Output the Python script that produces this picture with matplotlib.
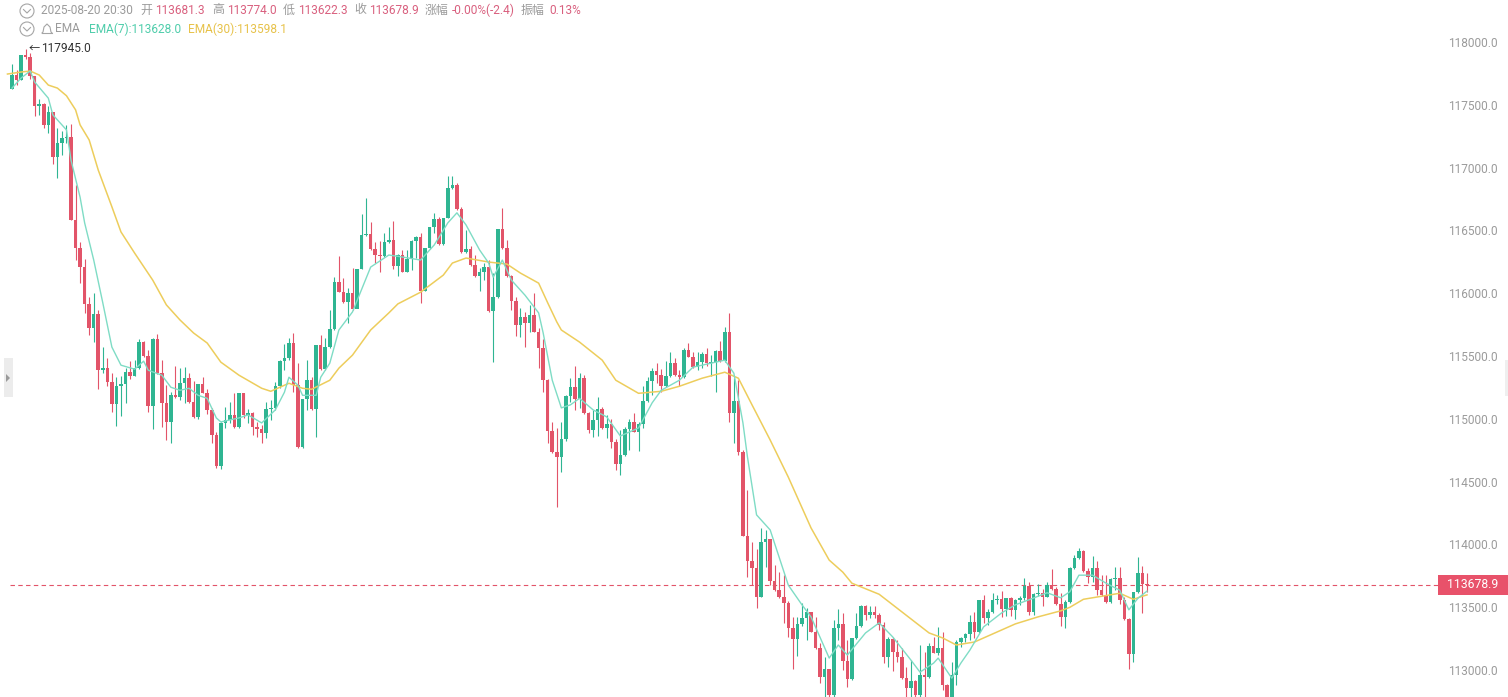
import numpy as np
from matplotlib import pyplot as plt, patches

plt.rcParams['font.family'] = ['Roboto', 'Noto Sans CJK SC', 'DejaVu Sans']

first_open = 117625

closes = [117737, 117697, 117897, 117881, 117729, 117492, 117508, 117340, 117444, 117084,
          117196, 117236, 117244, 116584, 116360, 116208, 115915, 115723, 115835, 115387,
          115403, 115291, 115119, 115259, 115275, 115371, 115339, 115403, 115611, 115499,
          115103, 115635, 115363, 115127, 114975, 115187, 115171, 115283, 115323, 115135,
          115015, 115275, 115203, 115071, 114871, 114623, 114967, 114991, 115031, 114935,
          115203, 115031, 115047, 114935, 114919, 114887, 115079, 115087, 115259, 115459,
          115483, 115603, 115267, 114775, 115155, 115307, 115079, 115587, 115395, 115571,
          115715, 116088, 116008, 115931, 116000, 115875, 116192, 116464, 116472, 116352,
          116304, 116296, 116408, 116424, 116216, 116304, 116168, 116272, 116416, 116448,
          116016, 116360, 116528, 116592, 116392, 116600, 116836, 116860, 116672, 116328,
          116352, 116224, 116136, 116168, 116208, 115859, 115968, 116512, 116360, 116136,
          115939, 115747, 115811, 115763, 115827, 115691, 115563, 115307, 114903, 114735,
          114695, 114839, 115179, 115251, 115155, 115323, 115047, 114911, 114991, 115079,
          114927, 114959, 114815, 114639, 114711, 114919, 114975, 114895, 114959, 115143,
          115299, 115379, 115347, 115259, 115339, 115443, 115347, 115331, 115547, 115491,
          115411, 115451, 115515, 115443, 115451, 115539, 115459, 115691, 115047, 115143,
          114735, 114067, 113867, 113811, 113579, 114019, 114043, 113707, 113635, 113579,
          113535, 113335, 113247, 113367, 113415, 113463, 113303, 113175, 112943, 113007,
          112799, 113335, 113367, 113071, 112927, 113255, 113351, 113511, 113439, 113463,
          113439, 113359, 113103, 113247, 113143, 113103, 112935, 112855, 112911, 112799,
          112959, 112943, 113191, 113135, 113175, 112879, 112759, 112959, 113223, 113255,
          113287, 113383, 113303, 113559, 113415, 113463, 113559, 113563, 113487, 113571,
          113479, 113559, 113571, 113667, 113463, 113603, 113611, 113579, 113675, 113643,
          113527, 113423, 113543, 113811, 113891, 113947, 113787, 113739, 113811, 113635,
          113595, 113543, 113723, 113731, 113559, 113407, 113127, 113619, 113771, 113681,
          113678.9]

highs = [117825, 117777, 117897, 117945, 117913, 117729, 117545, 117516, 117492, 117444,
         117316, 117292, 117340, 117348, 116860, 116408, 116272, 115968, 116000, 115867,
         115571, 115483, 115363, 115331, 115339, 115403, 115459, 115467, 115635, 115619,
         115547, 115643, 115675, 115467, 115267, 115211, 115419, 115403, 115411, 115363,
         115299, 115275, 115331, 115235, 115087, 114895, 114975, 115095, 115135, 115203,
         115203, 115203, 115079, 115055, 114975, 114951, 115135, 115147, 115291, 115467,
         115595, 115643, 115683, 115443, 115155, 115467, 115331, 115587, 115667, 115643,
         115867, 116128, 116296, 116120, 116040, 116200, 116192, 116632, 116756, 116568,
         116408, 116416, 116480, 116528, 116576, 116312, 116344, 116344, 116424, 116456,
         116480, 116360, 116528, 116640, 116608, 116600, 116932, 116932, 116876, 116688,
         116504, 116376, 116304, 116200, 116240, 116264, 116160, 116512, 116680, 116424,
         116144, 115968, 115883, 115851, 115907, 116000, 115723, 115635, 115315, 114975,
         114927, 114975, 115187, 115323, 115419, 115363, 115347, 115055, 115071, 115171,
         115095, 115031, 114999, 114839, 114911, 114935, 114999, 115047, 114975, 115259,
         115331, 115403, 115443, 115395, 115459, 115531, 115483, 115387, 115563, 115603,
         115531, 115531, 115531, 115563, 115507, 115547, 115619, 115731, 115843, 115323,
         115307, 114751, 114431, 114019, 113963, 114131, 114115, 114043, 113835, 113779,
         113755, 113551, 113423, 113423, 113535, 113495, 113455, 113423, 113215, 113103,
         113007, 113399, 113487, 113455, 113239, 113255, 113455, 113519, 113519, 113511,
         113511, 113455, 113383, 113263, 113263, 113239, 113175, 113023, 113079, 112919,
         113199, 113143, 113215, 113263, 113343, 113303, 112887, 113063, 113239, 113263,
         113295, 113439, 113463, 113559, 113595, 113487, 113611, 113595, 113627, 113571,
         113579, 113563, 113587, 113731, 113699, 113611, 113683, 113643, 113699, 113803,
         113659, 113611, 113559, 113819, 113915, 113971, 113955, 113811, 113907, 113867,
         113755, 113755, 113731, 113819, 113819, 113579, 113415, 113619, 113899, 113827,
         113774]

lows = [117625, 117657, 117697, 117865, 117705, 117412, 117420, 117316, 117276, 117028,
        116916, 117100, 117196, 116584, 116264, 116080, 115843, 115667, 115611, 115235,
        115363, 115259, 115055, 114943, 115023, 115127, 115315, 115339, 115395, 115491,
        115055, 114919, 115355, 114935, 114831, 114807, 115163, 115147, 115127, 115127,
        115007, 114999, 115203, 115039, 114807, 114607, 114599, 114927, 114967, 114927,
        114927, 115007, 114967, 114871, 114855, 114807, 114847, 114991, 115071, 115243,
        115387, 115467, 115211, 114767, 114767, 115071, 115071, 114855, 115387, 115387,
        115563, 115707, 116008, 115923, 115763, 115867, 115907, 116192, 116456, 116344,
        116240, 116168, 116288, 116400, 116192, 116136, 116168, 116168, 116184, 116280,
        115923, 116016, 116352, 116480, 116384, 116384, 116600, 116828, 116664, 116320,
        116320, 116216, 116128, 116016, 116104, 115851, 115451, 115963, 116352, 116128,
        115867, 115659, 115651, 115571, 115691, 115691, 115403, 115211, 114807, 114727,
        114299, 114575, 114823, 115135, 115071, 115087, 115039, 114887, 114855, 114863,
        114919, 114847, 114767, 114591, 114551, 114703, 114751, 114895, 114743, 114927,
        115135, 115187, 115283, 115211, 115251, 115331, 115339, 115259, 115323, 115491,
        115403, 115387, 115403, 115419, 115339, 115211, 115451, 115451, 114975, 114807,
        114711, 114067, 113739, 113675, 113495, 113579, 113819, 113675, 113627, 113571,
        113375, 113263, 113007, 113111, 113351, 113239, 113303, 113167, 112895, 112783,
        112719, 112719, 113239, 112999, 112863, 112919, 113247, 113343, 113399, 113415,
        113415, 113319, 113055, 113023, 112991, 113063, 112927, 112719, 112783, 112759,
        112719, 112783, 112935, 113135, 113119, 112839, 112719, 112719, 112879, 113183,
        113223, 113239, 113255, 113295, 113375, 113359, 113455, 113527, 113423, 113431,
        113431, 113407, 113519, 113559, 113439, 113439, 113587, 113511, 113579, 113635,
        113519, 113351, 113335, 113535, 113803, 113883, 113779, 113691, 113699, 113595,
        113587, 113535, 113535, 113635, 113527, 113399, 113007, 113063, 113611, 113455,
        113622.3]

ema7_idx = [0, 2, 4, 5, 8, 9, 12, 13, 15, 16, 18, 20, 22, 24, 27, 29, 30, 33, 35, 37,
            39, 41, 43, 45, 46, 50, 52, 55, 58, 60, 61, 63, 64, 67, 68, 70, 72, 75, 79, 83,
            86, 90, 93, 96, 98, 100, 103, 105, 106, 108, 110, 113, 116, 117, 119, 121, 123, 125, 128, 131,
            134, 138, 141, 143, 147, 150, 154, 157, 159, 161, 162, 164, 167, 171, 174, 176, 180, 182, 184, 188,
            191, 194, 198, 200, 203, 204, 207, 209, 211, 214, 218, 221, 224, 228, 231, 233, 235, 238, 241, 244,
            246, 248, 250]
ema7 = [117633, 117713, 117769, 117681, 117553, 117420, 117300, 117060, 116764, 116560,
        116264, 115923, 115571, 115427, 115395, 115459, 115387, 115347, 115251, 115227,
        115243, 115187, 115163, 115007, 114975, 115007, 115031, 114967, 115071, 115211,
        115331, 115267, 115187, 115187, 115331, 115443, 115707, 115851, 116208, 116304,
        116288, 116264, 116384, 116560, 116640, 116544, 116344, 116240, 116128, 116264,
        116104, 115984, 115843, 115683, 115307, 115087, 115111, 115163, 115071, 115015,
        114863, 114927, 115127, 115227, 115307, 115411, 115443, 115467, 115363, 114967,
        114695, 114235, 114115, 113675, 113519, 113423, 113095, 113199, 113119, 113295,
        113375, 113263, 113079, 112983, 113055, 113095, 112935, 113055, 113159, 113343,
        113455, 113519, 113559, 113615, 113575, 113623, 113755, 113755, 113691, 113635,
        113479, 113571, 113628]

ema30_idx = [-1, 2, 4, 6, 8, 10, 12, 14, 15, 17, 19, 22, 24, 27, 31, 34, 37, 40, 43, 46, 50, 55, 57, 61,
             64, 66, 70, 72, 75, 79, 83, 85, 90, 95, 97, 100, 105, 109, 112, 116, 118, 120, 121, 125, 130,
             133, 138, 143, 147, 152, 157, 160, 163, 167, 171, 176, 180, 183, 185, 191, 196, 202, 205, 208, 212,
             216, 221, 226, 231, 233, 236, 240, 244, 247, 249, 250]
ema30 = [117745, 117761, 117769, 117737, 117657, 117633, 117572, 117460, 117340, 117220, 116980, 116688,
         116488, 116320, 116104, 115907, 115787, 115683, 115603, 115451, 115347, 115243, 115219, 115283,
         115243, 115235, 115307, 115403, 115507, 115707, 115843, 115915, 116008, 116144,
         116240, 116280, 116248, 116232, 116160, 116080, 115923, 115771, 115707, 115611, 115467,
         115307, 115203, 115219, 115259, 115323, 115371, 115323, 115111, 114831, 114535,
         114131, 113875, 113779, 113691, 113603, 113463, 113295, 113255, 113199, 113223,
         113287, 113367, 113423, 113471, 113499, 113563, 113587, 113611, 113563, 113587,
         113598.1]

price_ticks = [113000, 113500, 114000, 114500, 115000, 115500, 116000, 116500, 117000, 117500, 118000]
high_price = 117945.0
last_close = 113678.9

up_color = '#2fb592'
down_color = '#e25469'
teal = '#7fdcc5'
yellow = '#edcd5c'
grey = '#9b9b9b'
red_text = '#d9607f'

W, H = 1508, 697
closes = np.array(closes)
highs = np.array(highs)
lows = np.array(lows)
opens = np.concatenate([[first_open], closes[:-1]])
idx = np.arange(len(closes))
colors = [up_color if c > o else down_color for o, c in zip(opens, closes)]

fig = plt.figure(figsize=(W / 100, H / 100), dpi=100)
ax = fig.add_axes([0, 0, 1, 1])

# one candle is 4.54 px wide, first one sits at x=12 px
ax.set_xlim(-12 / 4.54, (W - 12) / 4.54)
# 500 in price is 62.8 px, 118000 sits at y=42 px
ax.set_ylim(118000 - (H - 42) * 500 / 62.8, 118000 + 42 * 500 / 62.8)

ax.vlines(idx, lows, highs, colors=colors, linewidth=0.8, zorder=2)
ax.bar(idx, np.maximum(np.abs(closes - opens), 8), bottom=np.minimum(opens, closes),
       width=0.78, color=colors, linewidth=0, zorder=3)
ax.plot(ema30_idx, ema30, color=yellow, linewidth=1.1, zorder=4)
ax.plot(ema7_idx, ema7, color=teal, linewidth=1.0, zorder=4)

ax.axhline(last_close, xmin=10 / W, xmax=1438 / W, color=down_color, linewidth=0.8,
           dashes=(4, 3), zorder=1)
box = patches.Rectangle((1438 / W, last_close - 80), 70 / W, 160, facecolor='#e8526a',
                        edgecolor='none', transform=ax.get_yaxis_transform(), zorder=5)
ax.add_patch(box)
ax.text(1473 / W, last_close, f'{last_close:.1f}', transform=ax.get_yaxis_transform(),
        color='white', fontsize=8.8, ha='center', va='center', zorder=6)

ax.yaxis.tick_right()
ax.set_yticks(price_ticks)
ax.set_yticklabels([f'{p:.1f}' for p in price_ticks], ha='right')
ax.tick_params(axis='y', length=0, pad=-7.2, labelsize=8.6, labelcolor=grey)
ax.set_xticks([])
for s in ax.spines.values():
    s.set_visible(False)

# header, arrow label and small widgets are placed in pixels
over = fig.add_axes([0, 0, 1, 1])
over.set_xlim(0, W)
over.set_ylim(H, 0)
over.axis('off')


def put(x, y, s, color=grey, size=8.6):
    over.text(x, y, s, color=color, fontsize=size, ha='left', va='center')


def chevron_circle(x, y):
    over.add_patch(patches.Circle((x, y), 7, fill=False, edgecolor='#a5a5a5', linewidth=0.8))
    over.plot([x - 3.5, x, x + 3.5], [y - 1.5, y + 2, y - 1.5], color='#a5a5a5', linewidth=0.8)


chevron_circle(27, 11)
chevron_circle(27, 29)
put(41, 10, '2025-08-20 20:30')
put(140, 10, '开')
put(155, 10, '113681.3', red_text)
put(212, 10, '高')
put(227, 10, '113774.0', red_text)
put(283, 10, '低')
put(298, 10, '113622.3', red_text)
put(354, 10, '收')
put(369, 10, f'{last_close:.1f}', red_text)
put(425, 10, '涨幅')
put(452, 10, '-0.00%(-2.4)', red_text)
put(521, 10, '振幅')
put(549, 10, '0.13%', red_text)

# bell
over.plot([42, 43, 44, 47, 50, 51, 52], [33, 32, 27, 24, 27, 32, 33], color='#a5a5a5', linewidth=0.8)
over.plot([42, 52], [33, 33], color='#a5a5a5', linewidth=0.8)
put(55, 29, 'EMA')
put(89, 29, 'EMA(7):113628.0', '#4fcdab')
put(188, 29, 'EMA(30):113598.1', '#e7c24a')

put(29, 49, '←', '#222222', 8)
put(41, 49, f'{high_price:.1f}', '#333333')

# collapse handles on both edges
over.add_patch(patches.Rectangle((4, 358), 9, 39, facecolor='#ececec', edgecolor='none'))
over.add_patch(patches.Polygon([[6, 374], [10, 378], [6, 382]], facecolor='#9a9a9a', edgecolor='none'))
over.add_patch(patches.Rectangle((1505, 360), 3, 36, facecolor='#efefef', edgecolor='none'))

fig.savefig('out.png', dpi=100)
